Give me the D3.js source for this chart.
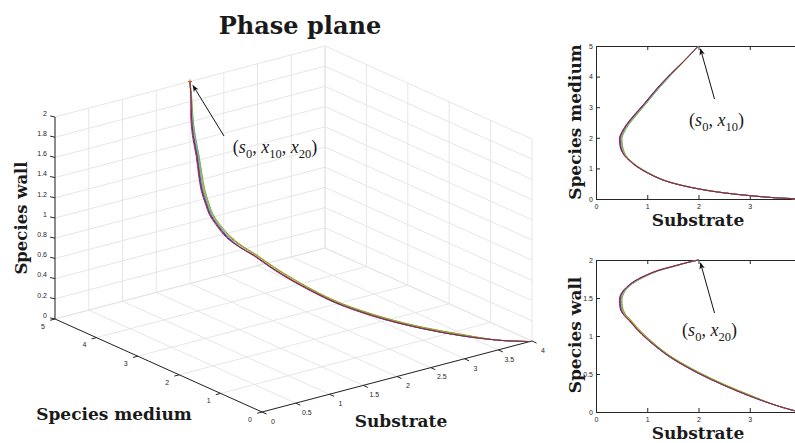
<!DOCTYPE html>
<html>
<head>
<meta charset="utf-8">
<script src="https://cdnjs.cloudflare.com/ajax/libs/d3/7.8.5/d3.min.js"></script>
<style>
  body { margin: 0; background: #fff; }
  .tick text { font-family: "Liberation Sans", Arial, sans-serif; font-size: 7px; fill: #262626; }
  .lbl { font-family: "DejaVu Serif", serif; font-weight: bold; fill: #1a1a1a; }
  .math { font-family: "Liberation Serif", serif; fill: #1a1a1a; }
</style>
</head>
<body>
<svg width="795" height="443"></svg>
<script>
// tick values
var subTicks3d = [0, 0.5, 1, 1.5, 2, 2.5, 3, 3.5, 4];
var mediumTicks3d = [0, 1, 2, 3, 4, 5];
var wallTicks3d = [0, 0.2, 0.4, 0.6, 0.8, 1, 1.2, 1.4, 1.6, 1.8, 2];
var subTicks2d = [0, 1, 2, 3];
var mediumTicks2d = [0, 1, 2, 3, 4, 5];
var wallTicks2d = [0, 0.5, 1, 1.5, 2];

// runs: [substrate, species medium, species wall]
var runBlue = [[2.00,5.00,2.00],[1.74,4.55,1.96],[1.48,4.10,1.91],[1.21,3.62,1.86],[0.96,3.12,1.79],[0.76,2.74,1.72],[0.61,2.43,1.64],[0.52,2.18,1.57],[0.48,2.02,1.50],[0.48,1.86,1.43],[0.50,1.64,1.34],[0.56,1.43,1.27],[0.66,1.25,1.20],[0.80,1.06,1.09],[1.00,0.86,0.96],[1.25,0.66,0.82],[1.50,0.52,0.70],[2.00,0.33,0.51],[2.50,0.20,0.35],[3.00,0.11,0.21],[3.50,0.04,0.09],[3.80,0.015,0.03],[3.97,0.00,0.00]];
var runOrange = [[2.00,5.00,2.00],[1.74,4.55,1.96],[1.48,4.10,1.91],[1.22,3.62,1.86],[0.97,3.12,1.79],[0.77,2.74,1.72],[0.62,2.43,1.64],[0.53,2.18,1.57],[0.49,2.02,1.50],[0.49,1.86,1.43],[0.51,1.64,1.35],[0.57,1.43,1.28],[0.67,1.25,1.21],[0.81,1.06,1.10],[1.01,0.86,0.97],[1.25,0.66,0.83],[1.50,0.52,0.71],[2.00,0.33,0.52],[2.50,0.20,0.36],[3.00,0.11,0.22],[3.50,0.04,0.09],[3.80,0.015,0.03],[3.97,0.00,0.00]];
var runYellow = [[2.00,5.00,2.00],[1.74,4.55,1.96],[1.49,4.10,1.91],[1.22,3.62,1.86],[0.98,3.12,1.79],[0.78,2.74,1.72],[0.63,2.43,1.65],[0.54,2.18,1.57],[0.50,2.02,1.50],[0.50,1.86,1.43],[0.52,1.64,1.35],[0.58,1.43,1.28],[0.67,1.25,1.21],[0.81,1.06,1.10],[1.01,0.86,0.97],[1.26,0.66,0.83],[1.51,0.52,0.71],[2.01,0.33,0.52],[2.51,0.20,0.36],[3.01,0.11,0.22],[3.50,0.04,0.09],[3.80,0.015,0.03],[3.97,0.00,0.00]];
var runPurple = [[2.00,5.00,2.00],[1.74,4.55,1.96],[1.46,4.10,1.91],[1.19,3.62,1.86],[0.94,3.12,1.79],[0.74,2.74,1.72],[0.59,2.43,1.64],[0.50,2.18,1.57],[0.46,2.02,1.50],[0.46,1.86,1.43],[0.48,1.64,1.34],[0.55,1.43,1.27],[0.65,1.25,1.20],[0.79,1.06,1.09],[0.99,0.86,0.96],[1.24,0.66,0.82],[1.49,0.52,0.70],[1.99,0.33,0.51],[2.50,0.20,0.35],[3.00,0.11,0.21],[3.50,0.04,0.09],[3.80,0.015,0.03],[3.97,0.00,0.00]];
var runGreen = [[2.00,5.00,2.00],[1.75,4.55,1.96],[1.49,4.10,1.91],[1.23,3.62,1.86],[0.98,3.12,1.79],[0.79,2.74,1.72],[0.64,2.43,1.65],[0.55,2.18,1.57],[0.51,2.02,1.50],[0.51,1.86,1.43],[0.53,1.64,1.35],[0.58,1.43,1.28],[0.68,1.25,1.21],[0.82,1.06,1.10],[1.02,0.86,0.97],[1.26,0.66,0.83],[1.51,0.52,0.71],[2.01,0.33,0.52],[2.51,0.20,0.36],[3.01,0.11,0.22],[3.50,0.04,0.09],[3.80,0.015,0.03],[3.97,0.00,0.00]];
var runCyan = [[2.00,5.00,2.00],[1.74,4.55,1.96],[1.48,4.10,1.91],[1.22,3.62,1.86],[0.97,3.12,1.79],[0.77,2.74,1.72],[0.62,2.43,1.64],[0.53,2.18,1.57],[0.49,2.02,1.50],[0.49,1.86,1.43],[0.51,1.64,1.34],[0.56,1.43,1.27],[0.66,1.25,1.20],[0.80,1.06,1.09],[1.00,0.86,0.96],[1.25,0.66,0.82],[1.50,0.52,0.70],[2.00,0.33,0.51],[2.50,0.20,0.35],[3.00,0.11,0.21],[3.50,0.04,0.09],[3.80,0.015,0.03],[3.97,0.00,0.00]];
var runRed = [[2.00,5.00,2.00],[1.74,4.55,1.96],[1.47,4.10,1.91],[1.20,3.62,1.86],[0.95,3.12,1.79],[0.75,2.74,1.72],[0.60,2.43,1.64],[0.51,2.18,1.57],[0.47,2.02,1.50],[0.47,1.86,1.43],[0.49,1.64,1.34],[0.55,1.43,1.27],[0.66,1.25,1.20],[0.80,1.06,1.09],[1.00,0.86,0.96],[1.25,0.66,0.82],[1.50,0.52,0.70],[2.00,0.33,0.51],[2.50,0.20,0.35],[3.00,0.11,0.21],[3.50,0.04,0.09],[3.80,0.015,0.03],[3.97,0.00,0.00]];

var runs = [runBlue, runOrange, runYellow, runPurple, runGreen, runCyan, runRed];
var runColors = ["#0072BD", "#D95319", "#EDB120", "#7E2F8E", "#77AC30", "#4DBEEE", "#A2142F"];
var startPoint = [2, 5, 2];

var svg = d3.select("svg");
var axisColor = "#262626", gridColor = "#e3e3e3";

svg.append("defs").append("marker")
  .attr("id", "head").attr("viewBox", "0 0 10 10")
  .attr("refX", 9).attr("refY", 5)
  .attr("markerWidth", 7).attr("markerHeight", 7)
  .attr("orient", "auto-start-reverse")
  .append("path").attr("d", "M0,1 L10,5 L0,9 L3,5 Z").attr("fill", "#111");

// ---------- 3D phase plane ----------
var origin = [262, 412], vS = [270, -71], vM = [-207, -93], vW = [0, -202];
var fS = d3.scaleLinear().domain([0, 4]).range([0, 1]);
var fM = d3.scaleLinear().domain([0, 5]).range([0, 1]);
var fW = d3.scaleLinear().domain([0, 2]).range([0, 1]);

function proj(s, m, w) {
  var a = fS(s), b = fM(m), c = fW(w);
  return [origin[0] + a*vS[0] + b*vM[0] + c*vW[0],
          origin[1] + a*vS[1] + b*vM[1] + c*vW[1]];
}

var g3 = svg.append("g");
var gridLines = [];
subTicks3d.forEach(function(s) {
  gridLines.push([proj(s,5,0), proj(s,5,2)]);
  gridLines.push([proj(s,0,0), proj(s,5,0)]);
});
wallTicks3d.forEach(function(w) {
  gridLines.push([proj(0,5,w), proj(4,5,w)]);
  gridLines.push([proj(4,0,w), proj(4,5,w)]);
});
mediumTicks3d.forEach(function(m) {
  gridLines.push([proj(4,m,0), proj(4,m,2)]);
  gridLines.push([proj(0,m,0), proj(4,m,0)]);
});
g3.selectAll(".grid").data(gridLines).enter().append("line")
  .attr("x1", function(d){ return d[0][0]; }).attr("y1", function(d){ return d[0][1]; })
  .attr("x2", function(d){ return d[1][0]; }).attr("y2", function(d){ return d[1][1]; })
  .attr("stroke", gridColor).attr("stroke-width", 0.9);

function seg(a, b) {
  g3.append("line").attr("x1", a[0]).attr("y1", a[1]).attr("x2", b[0]).attr("y2", b[1])
    .attr("stroke", axisColor).attr("stroke-width", 1);
}
seg(proj(0,0,0), proj(4,0,0));
seg(proj(0,0,0), proj(0,5,0));
seg(proj(0,5,0), proj(0,5,2));

function ticks3d(vals, pt, dir, off, anchor) {
  vals.forEach(function(v) {
    var p = pt(v);
    seg(p, [p[0] + dir[0]*5, p[1] + dir[1]*5]);
    g3.append("text").attr("x", p[0] + off[0]).attr("y", p[1] + off[1])
      .attr("text-anchor", anchor).attr("dominant-baseline", "middle")
      .style("font-family", "Liberation Sans, Arial, sans-serif").style("font-size", "7px")
      .attr("fill", axisColor).text(v);
  });
}
ticks3d(subTicks3d, function(v){ return proj(v,0,0); }, [0.91, 0.41], [11, 10], "middle");
ticks3d(mediumTicks3d, function(v){ return proj(0,v,0); }, [-0.967, 0.254], [-12, 8], "middle");
ticks3d(wallTicks3d, function(v){ return proj(0,5,v); }, [-0.97, -0.22], [-8, -3], "end");

var line3 = d3.line()
  .x(function(d){ return proj(d[0], d[1], d[2])[0]; })
  .y(function(d){ return proj(d[0], d[1], d[2])[1]; })
  .curve(d3.curveCatmullRom);
g3.selectAll(".run3").data(runs).enter().append("path")
  .attr("d", line3).attr("fill", "none")
  .attr("stroke", function(d, i){ return runColors[i]; }).attr("stroke-width", 1);

var sp = proj(startPoint[0], startPoint[1], startPoint[2]);
g3.append("path").attr("d", "M" + (sp[0]-2) + "," + sp[1] + "h4M" + sp[0] + "," + (sp[1]-2) + "v4")
  .attr("stroke", "#D95319").attr("stroke-width", 1);

svg.append("text").attr("class", "lbl").attr("x", 300).attr("y", 34)
  .attr("text-anchor", "middle").style("font-size", "24px").text("Phase plane");
svg.append("text").attr("class", "lbl").attr("transform", "translate(27,218) rotate(-90)")
  .attr("text-anchor", "middle").style("font-size", "16.5px").text("Species wall");
svg.append("text").attr("class", "lbl").attr("x", 114).attr("y", 420)
  .attr("text-anchor", "middle").style("font-size", "17px").text("Species medium");
svg.append("text").attr("class", "lbl").attr("x", 401).attr("y", 427)
  .attr("text-anchor", "middle").style("font-size", "17px").text("Substrate");

function mathLabel(x, y, subs) {
  var t = svg.append("text").attr("class", "math").attr("x", x).attr("y", y)
    .attr("text-anchor", "middle").style("font-size", "18px");
  t.append("tspan").text("(");
  subs.forEach(function(p, i) {
    if (i > 0) t.append("tspan").attr("dy", -5).text(", ");
    t.append("tspan").style("font-style", "italic").text(p[0]);
    t.append("tspan").attr("dy", 5).style("font-size", "12.5px").text(p[1]);
  });
  t.append("tspan").attr("dy", -5).text(")");
}
function arrow(x1, y1, x2, y2) {
  svg.append("line").attr("x1", x1).attr("y1", y1).attr("x2", x2).attr("y2", y2)
    .attr("stroke", "#111").attr("stroke-width", 1).attr("marker-end", "url(#head)");
}
arrow(224, 136, sp[0] + 3, sp[1] + 4);
mathLabel(275, 153, [["s", "0"], ["x", "10"], ["x", "20"]]);

// ---------- 2D projections ----------
function panel(top, bottom, yMax, yTicks, yIdx, yLabel, yLabelY, tag, tagX, tagY) {
  var x = d3.scaleLinear().domain([0, 4]).range([596, 801]);
  var y = d3.scaleLinear().domain([0, yMax]).range([bottom, top]);
  var g = svg.append("g");
  var fmt = function(d){ return String(d); };

  g.append("g").attr("transform", "translate(0," + bottom + ")")
    .call(d3.axisBottom(x).tickValues(subTicks2d).tickFormat(fmt).tickSize(-4).tickSizeOuter(0).tickPadding(5))
    .call(function(a){ a.selectAll("line, path").attr("stroke", axisColor); });
  g.append("g").attr("transform", "translate(596,0)")
    .call(d3.axisLeft(y).tickValues(yTicks).tickFormat(fmt).tickSize(-4).tickSizeOuter(0).tickPadding(3))
    .call(function(a){ a.selectAll("line, path").attr("stroke", axisColor); });
  g.append("g").attr("transform", "translate(0," + top + ")")
    .call(d3.axisTop(x).tickValues(subTicks2d).tickSize(-4).tickSizeOuter(0).tickFormat(""))
    .call(function(a){ a.selectAll("line, path").attr("stroke", axisColor); });

  var ln = d3.line()
    .x(function(d){ return x(d[0]); })
    .y(function(d){ return y(d[yIdx]); })
    .curve(d3.curveCatmullRom);
  g.selectAll(".run").data(runs).enter().append("path")
    .attr("d", ln).attr("fill", "none")
    .attr("stroke", function(d, i){ return runColors[i]; }).attr("stroke-width", 1);

  svg.append("text").attr("class", "lbl")
    .attr("transform", "translate(581," + yLabelY + ") rotate(-90)")
    .attr("text-anchor", "middle").style("font-size", "17px").text(yLabel);
  svg.append("text").attr("class", "lbl").attr("x", 698).attr("y", bottom + 27)
    .attr("text-anchor", "middle").style("font-size", "17px").text("Substrate");

  var px = x(startPoint[0]), py = y(startPoint[yIdx]);
  arrow(px + 16, py + 53, px + 2, py + 3);
  mathLabel(px + tagX, py + tagY, tag);
}
panel(46, 199, 5, mediumTicks2d, 1, "Species medium", 122, [["s", "0"], ["x", "10"]], 18, 80);
panel(260, 412, 2, wallTicks2d, 2, "Species wall", 335, [["s", "0"], ["x", "20"]], 11, 76);
</script>
</body>
</html>
